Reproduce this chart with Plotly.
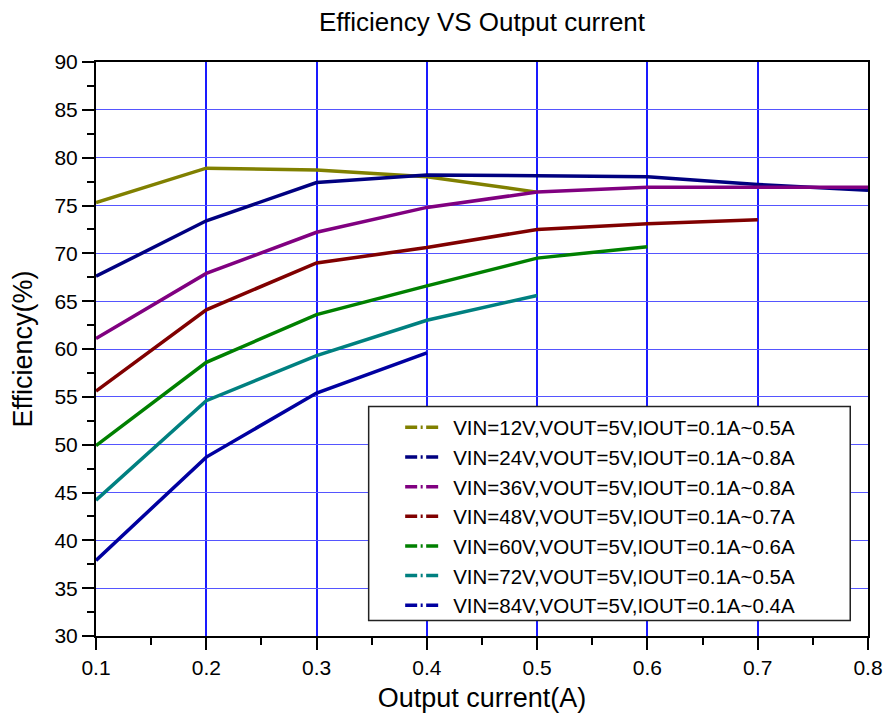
import plotly.graph_objects as go

current = [0.1, 0.2, 0.3, 0.4, 0.5, 0.6, 0.7, 0.8]
names = [
    "VIN=12V,VOUT=5V,IOUT=0.1A~0.5A",
    "VIN=24V,VOUT=5V,IOUT=0.1A~0.8A",
    "VIN=36V,VOUT=5V,IOUT=0.1A~0.8A",
    "VIN=48V,VOUT=5V,IOUT=0.1A~0.7A",
    "VIN=60V,VOUT=5V,IOUT=0.1A~0.6A",
    "VIN=72V,VOUT=5V,IOUT=0.1A~0.5A",
    "VIN=84V,VOUT=5V,IOUT=0.1A~0.4A",
]
eff_12v = [75.3, 78.9, 78.7, 78.0, 76.4]
eff_24v = [67.6, 73.4, 77.4, 78.2, 78.1, 78.0, 77.2, 76.6]
eff_36v = [61.1, 67.9, 72.2, 74.8, 76.4, 76.9, 76.9, 76.9]
eff_48v = [55.6, 64.1, 69.0, 70.6, 72.5, 73.1, 73.5]
eff_60v = [49.9, 58.6, 63.6, 66.6, 69.5, 70.7]
eff_72v = [44.2, 54.6, 59.3, 63.0, 65.6]
eff_84v = [37.9, 48.7, 55.4, 59.6]
series = [eff_12v, eff_24v, eff_36v, eff_48v, eff_60v, eff_72v, eff_84v]
colors = ["#808000", "#000080", "#800080", "#800000", "#008000", "#008080", "#0000A0"]
x_ticks = [0.1, 0.2, 0.3, 0.4, 0.5, 0.6, 0.7, 0.8]
x_tick_text = ["0.1", "0.2", "0.3", "0.4", "0.5", "0.6", "0.7", "0.8"]

fig = go.Figure()
for i, (name, ys, c) in enumerate(zip(names, series, colors)):
    fig.add_trace(go.Scatter(
        x=current[:len(ys)], y=ys, mode="lines", name=name,
        line=dict(color=c, width=3.5), showlegend=False))
for i, (name, c) in enumerate(zip(names, colors)):
    fig.add_trace(go.Scatter(
        x=[None], y=[None], mode="lines", name=name,
        line=dict(color=c, width=3.5, dash="12px,3.5px,2px,3.5px,12px")))

font = "Liberation Sans, Arial, sans-serif"
fig.update_layout(
    width=885, height=721,
    margin=dict(l=96, r=17, t=62, b=85),
    paper_bgcolor="white", plot_bgcolor="white",
    font=dict(family=font, color="black", size=21),
    title=dict(text="Efficiency VS Output current", x=0.5, xanchor="center",
               xref="paper", y=1 - 22 / 721, yanchor="middle", font=dict(size=26)),
    showlegend=True,
    legend=dict(x=0.394, y=0.398, xanchor="left", yanchor="top",
                borderwidth=0, bgcolor="rgba(0,0,0,0)",
                font=dict(size=20.5), itemwidth=43),
    shapes=[dict(type="rect", xref="paper", yref="paper",
                 x0=0.3532, x1=0.977, y0=0.027, y1=0.400,
                 line=dict(color="#222222", width=1.5),
                 fillcolor="white", layer="above")],
)
fig.update_xaxes(
    range=[0.1, 0.8], tickmode="array", tickvals=x_ticks, ticktext=x_tick_text,
    automargin=False,
    showline=True, linecolor="black", linewidth=2, mirror=True,
    ticks="outside", ticklen=12, tickwidth=1.5, tickcolor="black",
    showgrid=True, gridcolor="#1a1aFF", gridwidth=1.6,
    minor=dict(dtick=0.05, tick0=0.05, ticks="outside", ticklen=7, tickwidth=1.5,
               tickcolor="black", showgrid=False),
    zeroline=False,
    title=dict(text="Output current(A)", font=dict(size=27), standoff=10),
)
fig.update_yaxes(
    range=[30, 90], dtick=5, automargin=False,
    showline=True, linecolor="black", linewidth=2, mirror=True,
    ticks="outside", ticklen=12, tickwidth=1.5, tickcolor="black",
    showgrid=True, gridcolor="#5555FF", gridwidth=1.2,
    minor=dict(dtick=2.5, ticks="outside", ticklen=7, tickwidth=1.5,
               tickcolor="black", showgrid=False),
    zeroline=False,
    title=dict(text="Efficiency(%)", font=dict(size=27), standoff=14),
)
fig.write_html("out.html", config={"displayModeBar": False},
               post_script="document.body.style.margin='0';")
